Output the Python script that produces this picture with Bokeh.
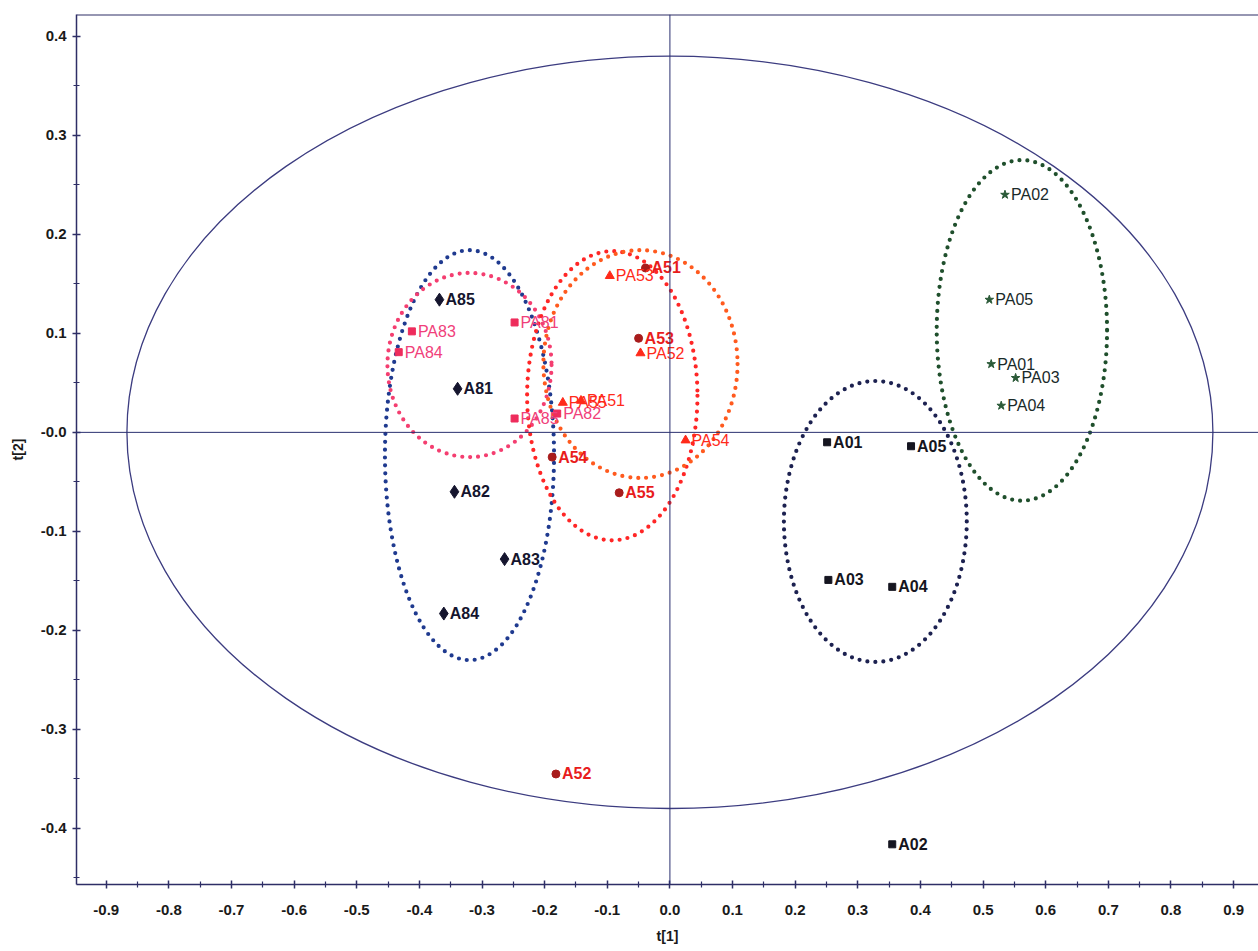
from bokeh.plotting import figure
from bokeh.models import ColumnDataSource, Span, FixedTicker, PrintfTickFormatter, Range1d
from bokeh.core.properties import value
from bokeh.embed import file_html
from bokeh.resources import INLINE

# ---- score values t[1], t[2] per sample group ----
a8_names = ["A81", "A82", "A83", "A84", "A85"]
a8_x = [-0.339, -0.344, -0.264, -0.361, -0.368]
a8_y = [0.044, -0.060, -0.128, -0.183, 0.134]

pa8_names = ["PA81", "PA82", "PA83", "PA84", "PA85"]
pa8_x = [-0.248, -0.180, -0.412, -0.433, -0.248]
pa8_y = [0.111, 0.019, 0.102, 0.081, 0.014]

a5_names = ["A51", "A52", "A53", "A54", "A55"]
a5_x = [-0.039, -0.182, -0.050, -0.188, -0.081]
a5_y = [0.166, -0.345, 0.095, -0.025, -0.061]

pa5_names = ["PA51", "PA52", "PA53", "PA54", "PA55"]
pa5_x = [-0.142, -0.047, -0.096, 0.025, -0.171]
pa5_y = [0.032, 0.080, 0.158, -0.008, 0.030]

a0_names = ["A01", "A02", "A03", "A04", "A05"]
a0_x = [0.251, 0.355, 0.253, 0.355, 0.385]
a0_y = [-0.010, -0.416, -0.149, -0.156, -0.014]

pa0_names = ["PA01", "PA02", "PA03", "PA04", "PA05"]
pa0_x = [0.513, 0.535, 0.552, 0.529, 0.510]
pa0_y = [0.069, 0.240, 0.055, 0.027, 0.134]

# Hotelling T2 ellipse (semi-axes)
t2_a = 0.867
t2_b = 0.380

# group ellipses: centre and semi-axes
grp_cx = [-0.320, -0.320, -0.092, -0.047, 0.328, 0.562]
grp_cy = [-0.023, 0.068, 0.037, 0.069, -0.090, 0.103]
grp_a = [0.135, 0.131, 0.136, 0.155, 0.146, 0.136]
grp_b = [0.207, 0.093, 0.146, 0.115, 0.142, 0.172]
grp_color = ["#1f3a8f", "#f43e70", "#ff2626", "#ff5a1e", "#1c2150", "#1f4f2c"]

x_ticks = [-0.9, -0.8, -0.7, -0.6, -0.5, -0.4, -0.3, -0.2, -0.1, 0.0,
           0.1, 0.2, 0.3, 0.4, 0.5, 0.6, 0.7, 0.8, 0.9]
y_ticks = [-0.4, -0.3, -0.2, -0.1, 0.0, 0.1, 0.2, 0.3, 0.4]

X0, X1 = -0.9475, 0.9398
Y0, Y1 = -0.4566, 0.422

p = figure(width=1258, height=951,
           x_range=Range1d(X0, X1), y_range=Range1d(Y0, Y1),
           output_backend="svg", toolbar_location=None,
           min_border_left=76, min_border_right=0,
           min_border_top=14, min_border_bottom=67)
p.grid.visible = False
p.outline_line_color = None
p.background_fill_color = "white"
p.border_fill_color = "white"

axis_col = "#2e2e66"
for ax in (p.xaxis[0], p.yaxis[0]):
    ax.axis_line_color = axis_col
    ax.axis_line_width = 1.5
    ax.major_tick_line_color = axis_col
    ax.minor_tick_line_color = axis_col
    ax.major_tick_line_width = 1.5
    ax.minor_tick_line_width = 1.2
    ax.major_tick_in = 4
    ax.major_tick_out = 4
    ax.minor_tick_in = 3
    ax.minor_tick_out = 3
    ax.major_label_text_font = "Liberation Sans"
    ax.major_label_text_font_style = "bold"
    ax.major_label_text_font_size = "15px"
    ax.major_label_text_color = "#1a1a1a"
    ax.axis_label_text_font = "Liberation Sans"
    ax.axis_label_text_font_style = "bold"
    ax.axis_label_text_font_size = "14px"
    ax.axis_label_text_color = "#1a1a1a"
    ax.formatter = PrintfTickFormatter(format="%.1f")

p.xaxis.ticker = FixedTicker(ticks=x_ticks,
                             minor_ticks=[t + 0.05 for t in x_ticks] + [-0.95])
p.yaxis.ticker = FixedTicker(ticks=y_ticks,
                             minor_ticks=[t + 0.05 for t in y_ticks] + [-0.45])
p.yaxis.major_label_overrides = {0: "-0.0"}
p.xaxis.major_label_standoff = 16
p.yaxis.major_label_standoff = 6
p.xaxis.axis_label = "t[1]"
p.yaxis.axis_label = "t[2]"
p.xaxis.axis_label_standoff = 10
p.yaxis.axis_label_standoff = 12

# frame top border and zero lines
p.add_layout(Span(location=Y1, dimension="width", line_color=axis_col, line_width=2))
p.add_layout(Span(location=0, dimension="height", line_color="#2a3070", line_width=1))
p.add_layout(Span(location=0, dimension="width", line_color="#2a3070", line_width=1))

# Hotelling T2 ellipse
p.ellipse(x=[0.0], y=[0.0], width=[2 * t2_a], height=[2 * t2_b],
          fill_color=None, line_color="#3c3c80", line_width=1.3)

# group ellipses (dotted)
gsrc = ColumnDataSource(dict(x=grp_cx, y=grp_cy,
                             w=[2 * a for a in grp_a], h=[2 * b for b in grp_b],
                             c=grp_color))
p.ellipse(x="x", y="y", width="w", height="h", source=gsrc,
          fill_color=None, line_color="c", line_width=4.2,
          line_dash="0 8", line_cap="round")


def group(names, xs, ys, marker, mcolor, size, tcolor, bold):
    src = ColumnDataSource(dict(x=xs, y=ys, t=names))
    p.scatter(x="x", y="y", source=src, marker=marker, size=size,
              fill_color=mcolor, line_color=mcolor)
    p.text(x="x", y="y", text="t", source=src, x_offset=6,
           text_baseline="middle", text_align="left",
           text_font=value("Liberation Sans"),
           text_font_style="bold" if bold else "normal",
           text_font_size="16px", text_color=tcolor)


group(a8_names, a8_x, a8_y, "diamond", "#15152e", 13, "#15152e", True)
group(pa8_names, pa8_x, pa8_y, "square", "#ee2c5c", 7, "#f0407a", False)
group(a5_names, a5_x, a5_y, "circle", "#a81c1c", 8, "#e81c1c", True)
group(pa5_names, pa5_x, pa5_y, "triangle", "#ff2a1a", 9, "#ff2a1a", False)
group(a0_names, a0_x, a0_y, "square", "#151520", 7, "#151520", True)
group(pa0_names, pa0_x, pa0_y, "star", "#2b5a38", 9, "#1a2a2a", False)

open("out.html", "w").write(file_html(p, INLINE))
